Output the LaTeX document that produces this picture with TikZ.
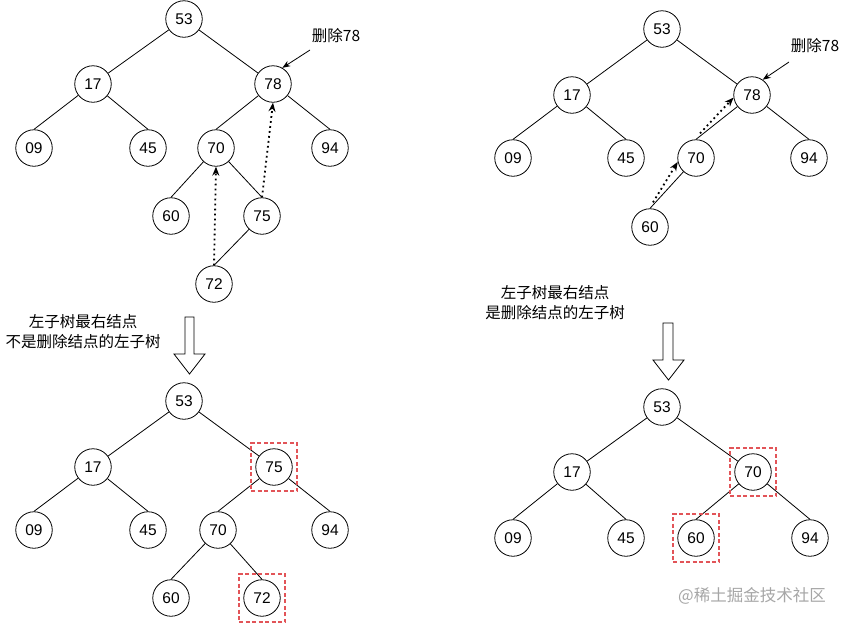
\documentclass[tikz,border=0pt]{standalone}
\usepackage{fontspec}
\usepackage{xcolor}
\usepackage{tikz}
\setmainfont{Liberation Sans}
\newfontfamily\cjk{Noto Sans CJK SC}
\usetikzlibrary{arrows.meta}
\definecolor{boxred}{RGB}{226,84,88}

\begin{document}
\begin{tikzpicture}[x=1pt, y=-1pt, line width=0.8pt,
		bnode/.style={draw, circle, minimum size=36.5pt, inner sep=0pt, font=\fontsize{15.5}{18}\selectfont},
		hlbox/.style={draw=boxred, line width=1.1pt, dash pattern=on 4pt off 2.5pt, minimum width=46pt, minimum height=48pt, inner sep=0pt},
		note/.style={align=center, font=\cjk\fontsize{15.5}{20}\selectfont},
		dotarrow/.style={line width=1.8pt, dash pattern=on 1.8pt off 3.2pt, -{Stealth[length=9pt, width=7pt]}},
		ptr/.style={-{Stealth[length=8pt, width=6pt]}},
		blockarrow/.style={draw, fill=white, line width=0.8pt}]
	\useasboundingbox (0,0) rectangle (850,625);

	% tree before deleting 78 (left)
	\node (a53) at (184,19) [bnode] {53};
	\node (a17) at (93,84) [bnode] {17};
	\node (a78) at (273,84) [bnode] {78};
	\node (a09) at (34,148) [bnode] {09};
	\node (a45) at (148,148) [bnode] {45};
	\node (a70) at (216,148) [bnode] {70};
	\node (a94) at (330,148) [bnode] {94};
	\node (a60) at (171,216) [bnode] {60};
	\node (a75) at (262,216) [bnode] {75};
	\node (a72) at (214,284) [bnode] {72};
	\coordinate (adel) at (310,50);
	\node (adeltxt) at (336,36) [note] {删除78};

	\draw (a17) -- (a53);
	\draw (a78) -- (a53);
	\draw (a09.north) -- (a17);
	\draw (a45.north) -- (a17);
	\draw (a70.north) -- (a78);
	\draw (a94.north) -- (a78);
	\draw (a60.north) -- (a70);
	\draw (a75.north) -- (a70);
	\draw (a72.north) -- (a75);
	\draw[dotarrow] (a72.north) -- (a70.south);
	\draw[dotarrow] (a75.north) -- (a78.south);
	\draw[ptr] (adel) -- (a78.60);

	% tree before deleting 78 (right)
	\node (b53) at (662,29) [bnode] {53};
	\node (b17) at (572,95) [bnode] {17};
	\node (b78) at (752,95) [bnode] {78};
	\node (b09) at (513,158) [bnode] {09};
	\node (b45) at (626,158) [bnode] {45};
	\node (b70) at (696,158) [bnode] {70};
	\node (b94) at (809,158) [bnode] {94};
	\node (b60) at (650,227) [bnode] {60};
	\coordinate (bdel) at (789,62);
	\node (bdeltxt) at (815,46) [note] {删除78};

	\draw (b17) -- (b53);
	\draw (b78) -- (b53);
	\draw (b09.north) -- (b17);
	\draw (b45.north) -- (b17);
	\draw (b70.north) -- (b78);
	\draw (b94.north) -- (b78);
	\draw (b60.north) -- (b70);
	\draw[dotarrow] ([shift={(3,-6)}]b60.north) -- (b70.192);
	\draw[dotarrow] ([shift={(4,-6)}]b70.north) -- (b78.188);
	\draw[ptr] (bdel) -- (b78.55);

	% captions and block arrows
	\node (acap) at (83,332) [note] {左子树最右结点\\不是删除结点的左子树};
	\node (bcap) at (555,303) [note] {左子树最右结点\\是删除结点的左子树};
	\draw[blockarrow] (185,317) -- (194,317) -- (194,354) -- (205,354) -- (189.5,374) -- (174,354) -- (185,354) -- cycle;
	\draw[blockarrow] (663,323) -- (673,323) -- (673,360) -- (684,360) -- (668.5,380) -- (653,360) -- (663,360) -- cycle;

	% tree after deleting 78 (left)
	\node (c53) at (184,401) [bnode] {53};
	\node (c17) at (93,467) [bnode] {17};
	\node (c75) at (274,467) [bnode] {75};
	\node (c09) at (34,530) [bnode] {09};
	\node (c45) at (148,530) [bnode] {45};
	\node (c70) at (218,530) [bnode] {70};
	\node (c94) at (330,530) [bnode] {94};
	\node (c60) at (171,598) [bnode] {60};
	\node (c72) at (262,598) [bnode] {72};

	\draw (c17) -- (c53);
	\draw (c75) -- (c53);
	\draw (c09.north) -- (c17);
	\draw (c45.north) -- (c17);
	\draw (c70.north) -- (c75);
	\draw (c94.north) -- (c75);
	\draw (c60.north) -- (c70);
	\draw (c72.north) -- (c70);
	\node (hc75) at (c75) [hlbox] {};
	\node (hc72) at (c72) [hlbox] {};

	% tree after deleting 78 (right)
	\node (d53) at (662,407) [bnode] {53};
	\node (d17) at (572,472) [bnode] {17};
	\node (d70) at (753,472) [bnode] {70};
	\node (d09) at (513,538) [bnode] {09};
	\node (d45) at (626,538) [bnode] {45};
	\node (d60) at (696,538) [bnode] {60};
	\node (d94) at (810,538) [bnode] {94};

	\draw (d17) -- (d53);
	\draw (d70) -- (d53);
	\draw (d09.north) -- (d17);
	\draw (d45.north) -- (d17);
	\draw (d60.north) -- (d70);
	\draw (d94.north) -- (d70);
	\node (hd70) at (d70) [hlbox] {};
	\node (hd60) at (d60) [hlbox] {};

	\node (wmark) at (752,596) [font=\cjk\fontsize{16.5}{20}\selectfont, text=black!35] {@稀土掘金技术社区};
\end{tikzpicture}
\end{document}
